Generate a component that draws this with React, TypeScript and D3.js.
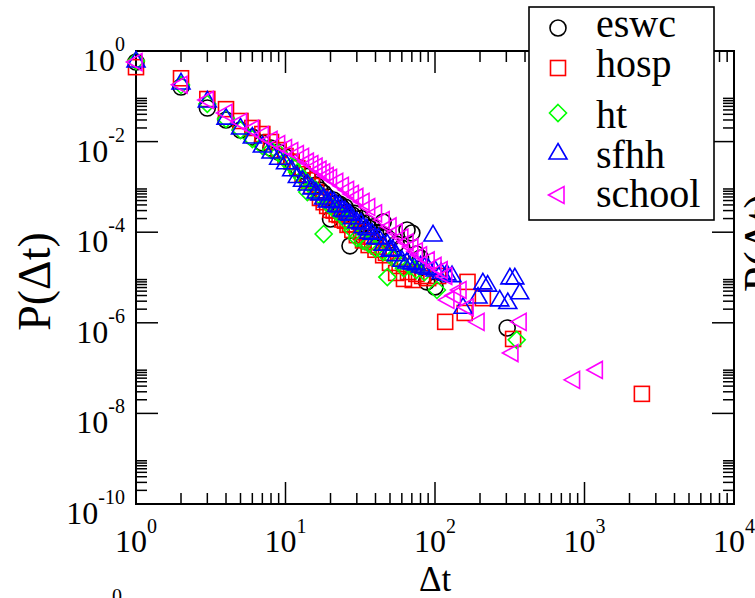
import React from "react";
import * as d3 from "d3";

// ---- data ----
const seriesNames = ["eswc", "hosp", "ht", "sfhh", "school"];

const eswcDt = [1,2,3,4,5,6,7,8,9,10,11,12,13,14,15,16,17,18,19,20,21,22,24,26,27,28,30,33,36,40,45,50,55,60,65,70,75,80,88,100,304,23,25,29,32,35,38,42,47];
const eswcP = [0.57,0.16,0.055,0.030,0.018,0.0126,0.0093,0.0072,0.0059,0.0046,0.0036,0.00275,0.00224,0.0017,0.0014,0.0011,0.00085,0.00073,0.0006,0.000196,0.00051,0.00044,0.00034,0.00028,5.0e-5,0.00024,0.000196,0.000152,0.000124,9.6e-5,0.000168,6.7e-5,5.5e-5,4.5e-5,0.000112,9.6e-5,3.3e-5,2.7e-5,8e-6,6.2e-6,7.7e-7,0.00042,0.00036,0.00026,0.0002,0.00016,0.00013,0.0001,8e-5];

const hospDt = [1,2,3,4,5,6,7,8,9,10,11,12,13,14,15,16,17,18,19,20,22,24,26,28,30,33,36,40,45,50,55,58,62,66,71,75,82,90,105,117,158,165,209,333,2420,21,23,25,27,32,35,38,42,47];
const hospP = [0.44,0.25,0.087,0.052,0.0285,0.020,0.0147,0.0098,0.0065,0.0048,0.0036,0.0026,0.0019,0.0014,0.00105,0.00077,0.00057,0.00046,0.00038,0.00031,0.00025,0.00019,0.000145,0.000112,8.6e-5,6.6e-5,5.2e-5,4.1e-5,3.1e-5,2.1e-5,1.26e-5,1.8e-5,9.3e-6,1.32e-5,8.8e-6,1.2e-5,1.08e-5,9.7e-6,1.08e-5,1.05e-6,1.65e-6,8e-6,3.5e-6,4.4e-7,2.7e-8,0.0003,0.00024,0.00018,0.00015,0.0001,8e-5,6e-5,4.8e-5,3.5e-5];

const htDt = [1,2,3,4,5,6,7,8,9,10,11,12,13,14,15,16,17,18,19,20,22,24,26,28,30,33,36,40,45,48,52,58,62,68,75,85,103,352];
const htP = [0.60,0.178,0.068,0.0315,0.018,0.0114,0.0080,0.0065,0.0056,0.0039,0.0030,0.0021,0.00157,0.00077,0.001,0.00085,0.00063,9.1e-5,0.00044,0.00038,0.00028,0.00023,0.000168,0.000112,7.4e-5,6.4e-5,5.5e-5,4.3e-5,3.65e-5,1.02e-5,2.7e-5,2.2e-5,1.6e-5,1.8e-5,1.46e-5,1.32e-5,5.3e-6,4.2e-7];

const sfhhDt = [1,2,3,4,5,6,7,8,9,10,11,12,13,14,15,16,17,18,19,20,22,24,26,28,30,33,36,40,45,50,55,60,65,70,75,80,85,90,97,100,110,120,130,154,194,209,225,271,307,317,342,369,21,23,25,27,32,35,38,42,48,52];
const sfhhP = [0.60,0.197,0.079,0.033,0.020,0.0126,0.0080,0.0059,0.0043,0.0034,0.0024,0.0017,0.0014,0.00116,0.00095,0.00077,0.00070,0.00057,0.00049,0.00050,0.00039,0.00031,0.00026,0.00021,0.00017,0.000132,0.0001,7.6e-5,5.4e-5,4.0e-5,3.2e-5,2.4e-5,2.2e-5,2.1e-5,2.0e-5,1.8e-5,1.7e-5,1.6e-5,8.7e-5,1.46e-5,1.3e-5,1.2e-5,1.1e-5,2.2e-6,3.7e-6,7.6e-6,6.8e-6,3.2e-6,2.8e-6,9.8e-6,9.8e-6,4.6e-6,0.00047,0.00038,0.0003,0.00025,0.00016,0.00012,9.5e-5,7.5e-5,5.5e-5,4.2e-5];

const schoolDt = [1,2,3,4,5,6,7,8,9,10,11,12,13,14,15,16,17,18,19,20,22,24,26,28,30,33,36,40,45,50,55,60,65,70,75,80,90,100,110,118,122,135,147,164,194,327,371,845,1200];
const schoolP = [0.57,0.18,0.083,0.043,0.027,0.019,0.014,0.0109,0.0088,0.0072,0.0062,0.0053,0.0046,0.0036,0.0032,0.0028,0.0024,0.0021,0.00176,0.00158,0.0013,0.00106,0.00086,0.0007,0.0006,0.00047,0.00036,0.00026,0.000185,0.000134,0.0001,7.6e-5,6.0e-5,4.7e-5,3.8e-5,3.1e-5,2.4e-5,1.8e-5,1.46e-5,1.08e-5,3.2e-6,4.0e-6,5.3e-6,2.2e-6,1.05e-6,2.15e-7,1.05e-6,5.5e-8,9.1e-8];

const xTickExps = [0, 1, 2, 3, 4];
const yTickExps = [0, -2, -4, -6, -8, -10];

// ---- styles ----
const colors = ["#000000", "#ff0000", "#00ff00", "#0000ff", "#ff00ff"];
const shapes = ["circle", "square", "diamond", "triangle", "ltriangle"];
const FONT = "Liberation Serif, DejaVu Serif, serif";

const W = 755, H = 598;
const L = 136, R = 734, T = 51, B = 504;

function Marker({ shape, color, x, y }: { shape: string; color: string; x: number; y: number }) {
  const common = { fill: "none", stroke: color, strokeWidth: 1.6 };
  if (shape === "circle") return <circle cx={x} cy={y} r={8} {...common} />;
  if (shape === "square") return <rect x={x - 7.5} y={y - 7.5} width={15} height={15} {...common} />;
  if (shape === "diamond")
    return <path d={`M${x},${y - 8.5}L${x + 8.5},${y}L${x},${y + 8.5}L${x - 8.5},${y}Z`} {...common} />;
  if (shape === "triangle")
    return <path d={`M${x},${y - 9.5}L${x + 9},${y + 6}L${x - 9},${y + 6}Z`} {...common} />;
  return <path d={`M${x - 9.5},${y}L${x + 6},${y - 8.5}L${x + 6},${y + 8.5}Z`} {...common} />;
}

function T2({ children, ...rest }: any) {
  return <text {...rest} style={{ fontFamily: FONT }}>{children}</text>;
}

export default function App() {
  const x = d3.scaleLog().domain([1, 1e4]).range([L, R]);
  const y = d3.scaleLog().domain([1e-10, 1]).range([B, T]);

  const series = [
    { dt: eswcDt, p: eswcP },
    { dt: hospDt, p: hospP },
    { dt: htDt, p: htP },
    { dt: sfhhDt, p: sfhhP },
    { dt: schoolDt, p: schoolP },
  ];

  const xMajor = xTickExps.map((e) => Math.pow(10, e));
  const xMinor: number[] = [];
  for (let d = 0; d < 4; d++) for (let k = 2; k <= 9; k++) xMinor.push(k * Math.pow(10, d));
  const yMajor = yTickExps.map((e) => Math.pow(10, e));
  const yMinor: number[] = [];
  for (const e of yTickExps) for (let k = 2; k <= 9; k++) { const v = k * Math.pow(10, e); if (v < 1) yMinor.push(v); }

  const MJ = 22, MN = 11;
  const tickStyle = { stroke: "#000", strokeWidth: 1.5 };

  const legendY = [28, 68, 113, 153, 195];
  const legendBase = [37, 77, 128, 168, 207];

  return (
    <svg width={W} height={H} style={{ position: "absolute", left: 0, top: 0, background: "#fff" }}>
      <rect x={0} y={0} width={W} height={H} fill="#fff" />
      {xMajor.slice(1, -1).map((v, i) => (
        <g key={"xM" + i}>
          <line x1={x(v)} x2={x(v)} y1={B} y2={B - MJ} {...tickStyle} />
          <line x1={x(v)} x2={x(v)} y1={T} y2={T + MJ} {...tickStyle} />
        </g>
      ))}
      {xMinor.map((v, i) => (
        <g key={"xm" + i}>
          <line x1={x(v)} x2={x(v)} y1={B} y2={B - MN} {...tickStyle} />
          <line x1={x(v)} x2={x(v)} y1={T} y2={T + MN} {...tickStyle} />
        </g>
      ))}
      {yMajor.slice(1, -1).map((v, i) => (
        <g key={"yM" + i}>
          <line x1={L} x2={L + MJ} y1={y(v)} y2={y(v)} {...tickStyle} />
          <line x1={R} x2={R - MJ} y1={y(v)} y2={y(v)} {...tickStyle} />
        </g>
      ))}
      {yMinor.map((v, i) => (
        <g key={"ym" + i}>
          <line x1={L} x2={L + MN} y1={y(v)} y2={y(v)} {...tickStyle} />
          <line x1={R} x2={R - MN} y1={y(v)} y2={y(v)} {...tickStyle} />
        </g>
      ))}
      <rect x={L} y={T} width={R - L} height={B - T} fill="none" stroke="#000" strokeWidth={2} />

      {xTickExps.map((e, i) => (
        <T2 key={"xl" + i} x={x(Math.pow(10, e))} y={552} textAnchor="middle" fontSize={32}>
          <tspan>10</tspan>
          <tspan fontSize={20} dy={-19}>{String(e)}</tspan>
        </T2>
      ))}
      {yTickExps.map((e, i) => (
        <T2 key={"yl" + i} x={125} y={y(Math.pow(10, e)) + 20} textAnchor="end" fontSize={32}>
          <tspan>10</tspan>
          <tspan fontSize={20} dy={-20}>{String(e)}</tspan>
        </T2>
      ))}

      <T2 x={(L + R) / 2} y={591} textAnchor="middle" fontSize={35}>Δt</T2>
      <T2 transform={`translate(50, ${(T + B) / 2 + 4}) rotate(-90)`} textAnchor="middle" fontSize={46}>P(Δt)</T2>

      {series.map((s, si) => (
        <g key={"s" + si}>
          {s.dt.map((d, j) => (
            <Marker key={j} shape={shapes[si]} color={colors[si]} x={x(d)} y={y(s.p[j])} />
          ))}
        </g>
      ))}

      <rect x={529} y={7} width={185} height={213} fill="#fff" stroke="#000" strokeWidth={1.6} />
      {seriesNames.map((n, i) => (
        <g key={"lg" + i}>
          <Marker shape={shapes[i]} color={colors[i]} x={558} y={legendY[i]} />
          <T2 x={596} y={legendBase[i]} fontSize={40}>{n}</T2>
        </g>
      ))}

      <T2 transform="translate(776, 292) rotate(-90)" textAnchor="start" fontSize={46}>P(Δt)</T2>
      <T2 x={112} y={603} fontSize={20}>0</T2>
    </svg>
  );
}
